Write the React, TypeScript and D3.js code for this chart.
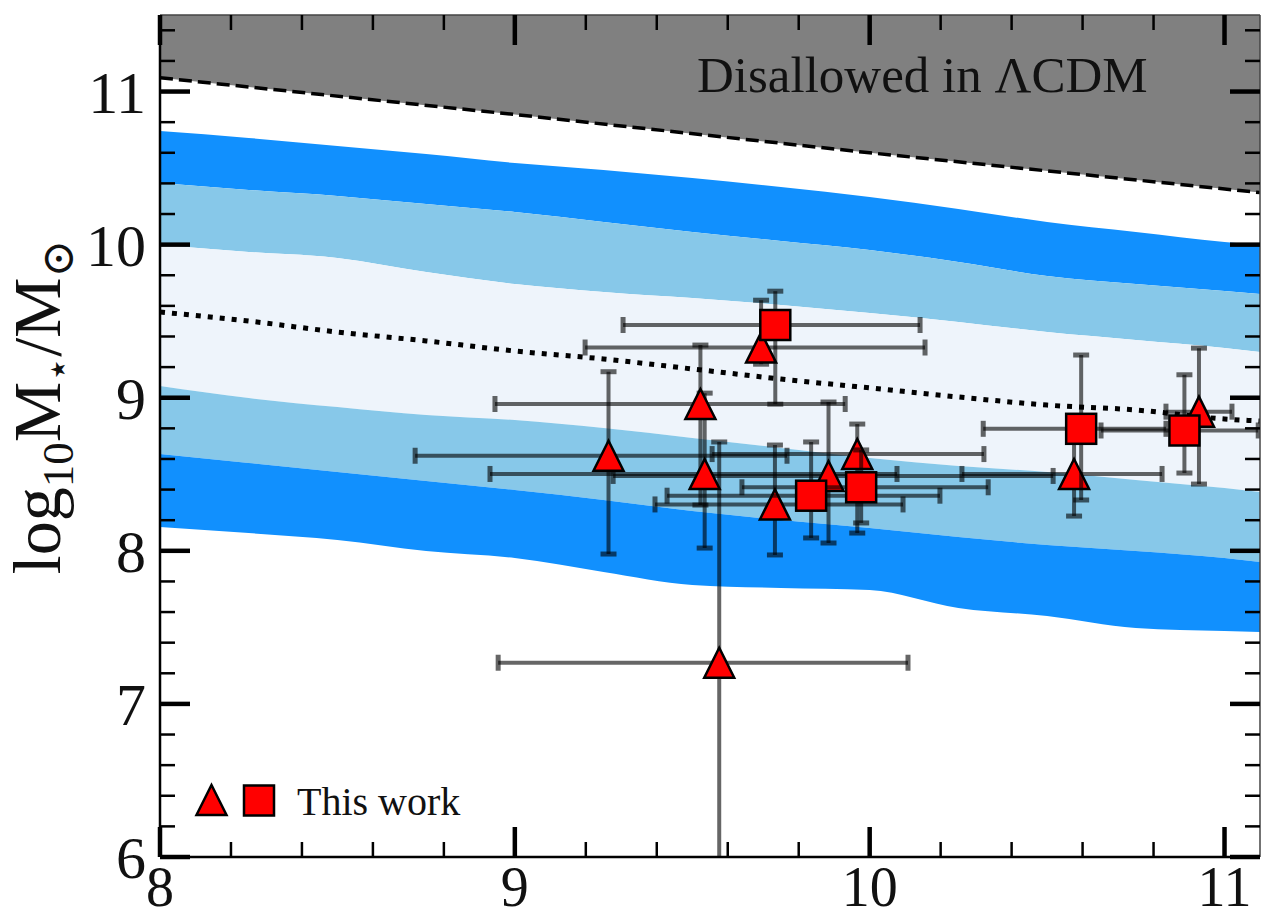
import React from 'react';
import * as d3 from 'd3';

const W = 1262;
const H = 921;
const X_DOMAIN: [number, number] = [8, 11.1];
const Y_DOMAIN: [number, number] = [6, 11.5];

// model bands (log10 M* vs x)
const bandX = [8.0, 8.25, 8.5, 8.75, 9.0, 9.25, 9.5, 9.75, 10.0, 10.25, 10.5, 10.75, 11.0, 11.1];
const upper3 = [10.742, 10.697, 10.644, 10.592, 10.533, 10.488, 10.435, 10.376, 10.311, 10.233, 10.148, 10.083, 10.017, 9.998];
const upper2 = [10.403, 10.357, 10.318, 10.265, 10.213, 10.148, 10.083, 10.024, 9.965, 9.887, 9.795, 9.743, 9.697, 9.678];
const upper1 = [9.998, 9.952, 9.913, 9.821, 9.743, 9.691, 9.651, 9.606, 9.553, 9.495, 9.429, 9.377, 9.325, 9.299];
const lower1 = [9.077, 8.998, 8.939, 8.887, 8.854, 8.802, 8.737, 8.672, 8.606, 8.554, 8.515, 8.463, 8.41, 8.384];
const lower2 = [8.632, 8.574, 8.515, 8.456, 8.397, 8.332, 8.26, 8.201, 8.149, 8.09, 8.038, 7.999, 7.953, 7.927];
const lower3 = [8.156, 8.116, 8.071, 7.999, 7.953, 7.862, 7.777, 7.757, 7.744, 7.626, 7.574, 7.496, 7.476, 7.47];
const median = [9.56, 9.501, 9.429, 9.371, 9.305, 9.253, 9.188, 9.122, 9.064, 9.005, 8.952, 8.92, 8.861, 8.848];

// LCDM limit
const lcdmX = [8, 9, 10, 11.1];
const lcdmY = [11.09, 10.85, 10.6, 10.34];

// "This work" triangles
const triX = [9.264, 9.523, 9.535, 9.694, 9.733, 9.884, 9.965, 10.576, 10.928, 9.576];
const triY = [8.621, 8.959, 8.502, 9.328, 8.303, 8.489, 8.632, 8.502, 8.909, 7.269];
const triXLo = [8.719, 8.944, 8.93, 9.198, 9.395, 9.277, 9.556, 10.26, 10.835, 8.953];
const triXHi = [9.767, 9.931, 10.077, 10.156, 10.094, 10.517, 10.322, 10.824, 11.021, 10.108];
const triYLo = [7.979, 8.299, 8.018, 9.219, 7.973, 8.051, 8.116, 8.227, 8.436, 5.5];
const triYHi = [9.17, 9.344, 9.03, 9.637, 8.691, 8.972, 8.828, 8.724, 9.324, 8.711];

// "This work" squares
const sqX = [9.734, 9.835, 9.976, 10.596, 10.887];
const sqY = [9.475, 8.36, 8.415, 8.797, 8.786];
const sqXLo = [9.305, 9.429, 9.64, 10.32, 10.652];
const sqXHi = [10.142, 10.198, 10.334, 10.835, 11.095];
const sqYLo = [8.958, 8.084, 8.182, 8.332, 8.508];
const sqYHi = [9.696, 8.711, 8.659, 9.279, 9.15];

const xMajor = [8, 9, 10, 11];
const yMajor = [6, 7, 8, 9, 10, 11];

const FONT = "'Liberation Serif', 'DejaVu Serif', serif";

export default function App() {
  const left = 160, right = 1260, top = 15, bottom = 857;
  const x = d3.scaleLinear().domain(X_DOMAIN).range([left, right]);
  const y = d3.scaleLinear().domain(Y_DOMAIN).range([bottom, top]);

  const idx = d3.range(bandX.length);
  const band = (lo: number[], hi: number[]) =>
    d3.area<number>().x(i => x(bandX[i])).y0(i => y(lo[i])).y1(i => y(hi[i])).curve(d3.curveMonotoneX)(idx) || '';
  const medLine = d3.line<number>().x(i => x(bandX[i])).y(i => y(median[i])).curve(d3.curveMonotoneX)(idx) || '';
  const li = d3.range(lcdmX.length);
  const lcdmArea = d3.area<number>().x(i => x(lcdmX[i])).y0(i => y(lcdmY[i])).y1(() => y(Y_DOMAIN[1]))(li) || '';
  const lcdmLine = d3.line<number>().x(i => x(lcdmX[i])).y(i => y(lcdmY[i]))(li) || '';

  const xMinor = d3.range(8, 11.1, 0.2).map(v => +v.toFixed(2)).filter(v => !xMajor.some(m => Math.abs(m - v) < 1e-6));
  const yMinor = d3.range(6, 11.5, 0.2).map(v => +v.toFixed(2)).filter(v => !yMajor.some(m => Math.abs(m - v) < 1e-6));

  const cap = 8;
  const errBars = (xs: number[], ys: number[], xlo: number[], xhi: number[], ylo: number[], yhi: number[], key: string) =>
    xs.map((_, i) => {
      const cx = x(xs[i]), cy = y(ys[i]);
      const x0 = x(xlo[i]), x1 = x(xhi[i]), y0 = y(ylo[i]), y1 = y(yhi[i]);
      return (
        <g key={key + i} stroke="#000" strokeOpacity={0.6} fill="none">
          <line x1={x0} x2={x1} y1={cy} y2={cy} strokeWidth={4} />
          <line x1={cx} x2={cx} y1={y0} y2={y1} strokeWidth={4} />
          <line x1={x0} x2={x0} y1={cy - cap} y2={cy + cap} strokeWidth={5} />
          <line x1={x1} x2={x1} y1={cy - cap} y2={cy + cap} strokeWidth={5} />
          <line x1={cx - cap} x2={cx + cap} y1={y0} y2={y0} strokeWidth={5} />
          <line x1={cx - cap} x2={cx + cap} y1={y1} y2={y1} strokeWidth={5} />
        </g>
      );
    });

  const tri = (cx: number, cy: number, s: number) =>
    `M${cx},${cy - s / 2}L${cx + s / 2},${cy + s / 2}L${cx - s / 2},${cy + s / 2}Z`;
  const MS = 30;

  return (
    <svg width={W} height={H} style={{ position: 'absolute', left: 0, top: 0, background: '#fff' }} fontFamily={FONT}>
      <defs>
        <clipPath id="plotClip">
          <rect x={left} y={top} width={right - left} height={bottom - top} />
        </clipPath>
      </defs>
      <rect x={0} y={0} width={W} height={H} fill="#fff" />
      <g clipPath="url(#plotClip)">
        <path d={band(upper2, upper3)} fill="#1190fe" />
        <path d={band(upper1, upper2)} fill="#87c8e9" />
        <path d={band(lower1, upper1)} fill="#eef4fb" />
        <path d={band(lower2, lower1)} fill="#87c8e9" />
        <path d={band(lower3, lower2)} fill="#1190fe" />
        <path d={medLine} fill="none" stroke="#000" strokeWidth={5} strokeDasharray="5 7" />
        <path d={lcdmArea} fill="#808080" />
        <path d={lcdmLine} fill="none" stroke="#000" strokeWidth={3.5} strokeDasharray="13 6" />
        {errBars(triX, triY, triXLo, triXHi, triYLo, triYHi, 't')}
        {triX.map((v, i) => (
          <path key={'tm' + i} d={tri(x(v), y(triY[i]), MS)} fill="#ff0000" stroke="#000" strokeWidth={2.5} strokeLinejoin="miter" />
        ))}
        {errBars(sqX, sqY, sqXLo, sqXHi, sqYLo, sqYHi, 's')}
        {sqX.map((v, i) => (
          <rect key={'sm' + i} x={x(v) - MS / 2} y={y(sqY[i]) - MS / 2} width={MS} height={MS} fill="#ff0000" stroke="#000" strokeWidth={2.5} />
        ))}
      </g>

      <text x={697} y={92} fontSize={51} fill="#111">Disallowed in ΛCDM</text>

      {/* spines */}
      <g fill="none">
        <line x1={left} x2={left} y1={top} y2={bottom} stroke="#000" strokeWidth={2.5} />
        <line x1={left} x2={right} y1={bottom} y2={bottom} stroke="#000" strokeWidth={2.5} />
        <line x1={left} x2={right} y1={top} y2={top} stroke="#444" strokeWidth={1.5} />
        <line x1={right} x2={right} y1={top} y2={bottom} stroke="#444" strokeWidth={1.5} />
      </g>

      {/* ticks */}
      <g stroke="#000">
        {xMajor.map(v => (
          <g key={'xM' + v}>
            <line x1={x(v)} x2={x(v)} y1={bottom} y2={bottom - 30} strokeWidth={4.5} />
            <line x1={x(v)} x2={x(v)} y1={top} y2={top + 30} strokeWidth={4.5} />
          </g>
        ))}
        {xMinor.map(v => (
          <g key={'xm' + v}>
            <line x1={x(v)} x2={x(v)} y1={bottom} y2={bottom - 15} strokeWidth={2.5} />
            <line x1={x(v)} x2={x(v)} y1={top} y2={top + 15} strokeWidth={2.5} />
          </g>
        ))}
        {yMajor.map(v => (
          <g key={'yM' + v}>
            <line x1={left} x2={left + 30} y1={y(v)} y2={y(v)} strokeWidth={4.5} />
            <line x1={right} x2={right - 30} y1={y(v)} y2={y(v)} strokeWidth={4.5} />
          </g>
        ))}
        {yMinor.map(v => (
          <g key={'ym' + v}>
            <line x1={left} x2={left + 15} y1={y(v)} y2={y(v)} strokeWidth={2.5} />
            <line x1={right} x2={right - 15} y1={y(v)} y2={y(v)} strokeWidth={2.5} />
          </g>
        ))}
      </g>

      {/* tick labels */}
      <g fill="#111">
        {xMajor.map(v => (
          <text key={'xl' + v} x={x(v)} y={906} fontSize={56} textAnchor="middle">{v}</text>
        ))}
        {yMajor.map(v => (
          <text key={'yl' + v} x={146} y={y(v) + 21} fontSize={60} textAnchor="end">{v}</text>
        ))}
      </g>

      {/* y axis label */}
      <text transform="translate(60,407) rotate(-90)" textAnchor="middle" fontSize={68} fill="#111">
        log<tspan dy={13} fontSize={45}>10</tspan><tspan dy={-13}>M</tspan><tspan dy={11} fontSize={40}>⋆</tspan><tspan dy={-11}>/M</tspan><tspan dy={13} fontSize={45}>⊙</tspan>
      </text>

      {/* legend */}
      <path d={tri(211.5, 800, MS)} fill="#ff0000" stroke="#000" strokeWidth={2.5} />
      <rect x={259 - MS / 2} y={800.5 - MS / 2} width={MS} height={MS} fill="#ff0000" stroke="#000" strokeWidth={2.5} />
      <text x={297} y={815} fontSize={40} fill="#111">This work</text>
    </svg>
  );
}
